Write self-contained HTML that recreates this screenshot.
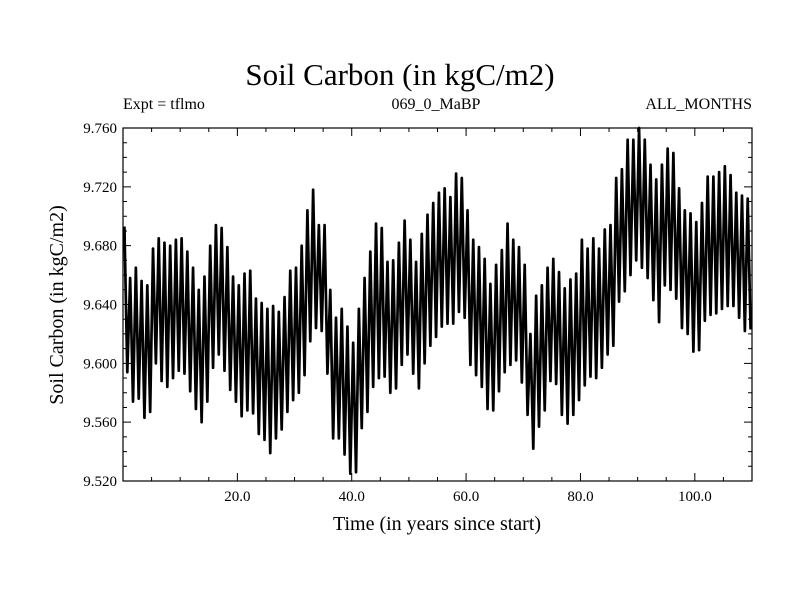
<!DOCTYPE html>
<html><head><meta charset="utf-8"><style>
body{margin:0;background:#fff}
svg text{font-family:"Liberation Serif",serif;fill:#000}
</style></head><body>
<svg id="chart" width="800" height="600" viewBox="0 0 800 600" xmlns="http://www.w3.org/2000/svg">
<rect width="800" height="600" fill="#fff"/>
<text x="400" y="85" font-size="31" text-anchor="middle">Soil Carbon (in kgC/m2)</text>
<text x="123" y="109" font-size="16">Expt = tflmo</text>
<text x="436" y="109" font-size="16" text-anchor="middle">069_0_MaBP</text>
<text x="752" y="109" font-size="16" text-anchor="end">ALL_MONTHS</text>
<text x="437" y="530" font-size="20" text-anchor="middle">Time (in years since start)</text>
<text transform="translate(63,305) rotate(-90)" font-size="20" text-anchor="middle">Soil Carbon (in kgC/m2)</text>
<g id="axes"></g>
<g id="series"></g>
</svg>
<script>
const peaks = [9.693,9.658,9.665,9.656,9.653,9.678,9.685,9.682,9.680,9.684,9.685,9.676,9.665,9.650,9.659,9.680,9.694,9.692,9.679,9.659,9.653,9.661,9.663,9.644,9.641,9.637,9.639,9.635,9.645,9.663,9.665,9.680,9.704,9.718,9.694,9.694,
9.650,9.631,9.637,9.625,9.614,9.637,9.658,9.676,9.695,9.692,9.669,9.670,9.682,9.697,9.684,9.669,9.688,9.701,9.709,9.716,9.719,9.713,9.729,9.726,9.704,9.684,9.679,9.671,9.654,9.667,9.677,9.695,9.684,9.679,9.667,9.620,
9.646,9.653,9.665,9.671,9.662,9.651,9.657,9.661,9.684,9.678,9.685,9.678,9.691,9.694,9.726,9.732,9.752,9.752,9.760,9.752,9.735,9.725,9.735,9.746,9.743,9.719,9.704,9.702,9.696,9.709,9.727,9.727,9.730,9.734,9.728,9.716,9.714,9.712];
const troughs = [9.594,9.574,9.576,9.563,9.567,9.600,9.588,9.584,9.590,9.595,9.593,9.581,9.569,9.560,9.574,9.597,9.606,9.595,9.582,9.574,9.564,9.568,9.566,9.552,9.548,9.539,9.549,9.555,9.567,9.575,9.580,9.592,9.615,9.624,9.622,9.593,
9.549,9.549,9.538,9.525,9.526,9.556,9.567,9.584,9.590,9.591,9.580,9.583,9.599,9.606,9.593,9.583,9.600,9.612,9.618,9.625,9.627,9.627,9.635,9.631,9.599,9.592,9.584,9.569,9.568,9.581,9.594,9.599,9.602,9.587,9.565,9.542,
9.557,9.568,9.588,9.586,9.565,9.559,9.565,9.575,9.585,9.591,9.590,9.597,9.606,9.612,9.642,9.649,9.660,9.670,9.665,9.658,9.643,9.628,9.653,9.650,9.644,9.624,9.620,9.608,9.609,9.629,9.633,9.634,9.637,9.639,9.639,9.631,9.622,9.623];
const xTickLabels = ["20.0","40.0","60.0","80.0","100.0"];
const xTickValues = [20,40,60,80,100];
const yTickLabels = ["9.520","9.560","9.600","9.640","9.680","9.720","9.760"];
const yTickValues = [9.52,9.56,9.60,9.64,9.68,9.72,9.76];

const L=123,R=752,T=128,B=481,XMIN=0,XMAX=110,YMIN=9.52,YMAX=9.76;
const sx=v=>L+(v-XMIN)/(XMAX-XMIN)*(R-L);
const sy=v=>B-(v-YMIN)/(YMAX-YMIN)*(B-T);
const NS="http://www.w3.org/2000/svg";
const axes=document.getElementById('axes'), series=document.getElementById('series');
function mk(tag,attrs,parent){const e=document.createElementNS(NS,tag);for(const k in attrs)e.setAttribute(k,attrs[k]);parent.appendChild(e);return e;}

const frame=mk('rect',{x:L,y:T,width:R-L,height:B-T,fill:'none',stroke:'#000','stroke-width':1.2},axes);



let d='';
for(let v=5;v<XMAX;v+=5){const x=sx(v);const len=(v%20===0)?8:4;d+=`M${x},${B}v${-len}M${x},${T}v${len}`;}
for(let k=1;k<24;k++){const v=YMIN+k*0.01;const y=sy(v);const len=(k%4===0)?8:4;d+=`M${L},${y}h${len}M${R},${y}h${-len}`;}
const ticks=mk('path',{d:d,stroke:'#000','stroke-width':1,fill:'none'},axes);



xTickValues.forEach((v,i)=>{
  const t=mk('text',{x:sx(v),y:B+20,'font-size':15,'text-anchor':'middle'},axes);
  t.textContent=xTickLabels[i];
  
  
});
yTickValues.forEach((v,i)=>{
  const t=mk('text',{x:L-6,y:sy(v)+5,'font-size':15,'text-anchor':'end'},axes);
  t.textContent=yTickLabels[i];
  
  
});

let p='';
for(let i=0;i<peaks.length;i++){
  const xp=sx(i+0.25), xt=sx(i+0.75);
  p+=(i===0?'M':'L')+xp.toFixed(2)+','+sy(peaks[i]).toFixed(2);
  p+='L'+xt.toFixed(2)+','+sy(troughs[i]).toFixed(2);
}
const line=mk('path',{d:p,stroke:'#000','stroke-width':2.7,fill:'none','stroke-linejoin':'round'},series);


</script>
</body></html>
